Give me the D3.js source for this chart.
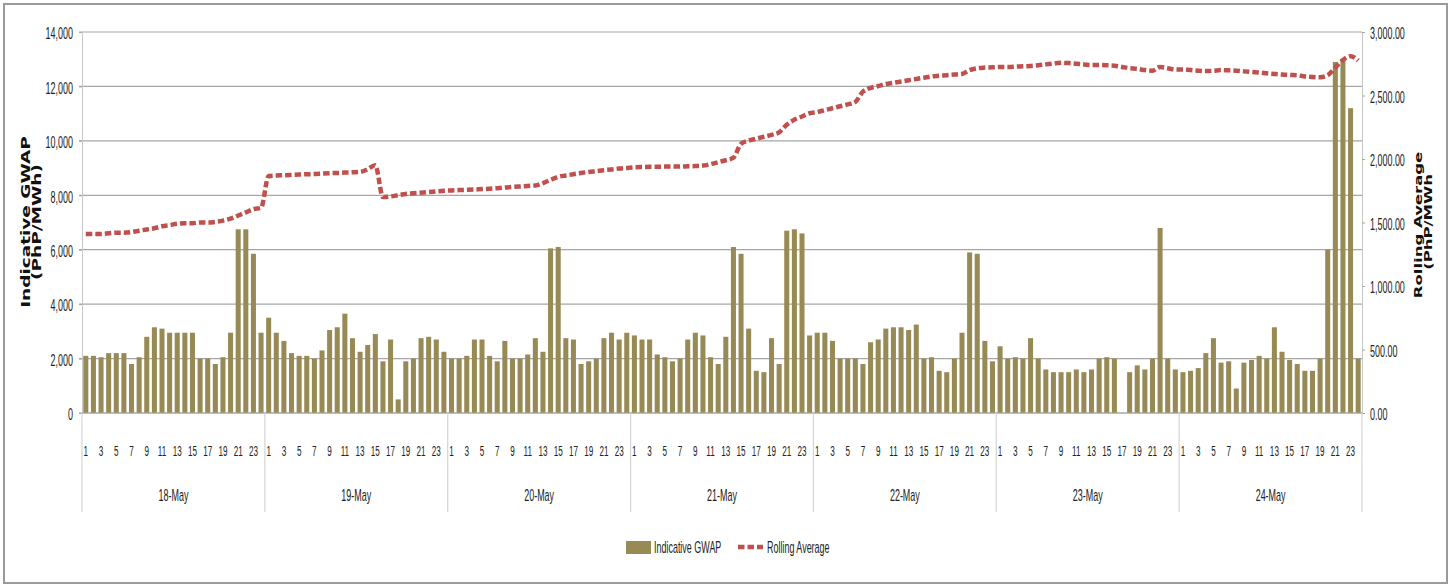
<!DOCTYPE html>
<html><head><meta charset="utf-8">
<script src="https://cdn.jsdelivr.net/npm/d3@7"></script>
<style>body{margin:0;background:#fff}</style></head>
<body><svg id="c" width="1456" height="586"></svg>
<script>
// ---- data ----
const days = ["18-May","19-May","20-May","21-May","22-May","23-May","24-May"];
const hours = d3.range(1,25).map(String);
const leftTicks = [0,2000,4000,6000,8000,10000,12000,14000];
const rightTicks = [0,500,1000,1500,2000,2500,3000];

const gwap18 = [2100,2100,2050,2200,2200,2200,1800,2050,2800,3150,3100,2950,2950,2950,2950,2000,2000,1800,2050,2950,6750,6750,5850,2950];
const gwap19 = [3500,2950,2650,2200,2100,2100,2000,2300,3050,3150,3650,2750,2250,2500,2900,1900,2700,500,1900,2000,2750,2800,2700,2250];
const gwap20 = [2000,2000,2100,2700,2700,2100,1900,2650,2000,2000,2150,2750,2250,6050,6100,2750,2700,1800,1900,2000,2750,2950,2700,2950];
const gwap21 = [2850,2700,2700,2150,2050,1900,2000,2700,2950,2850,2050,1800,2800,6100,5850,3100,1550,1500,2750,1800,6700,6750,6600,2850];
const gwap22 = [2950,2950,2650,2000,2000,2000,1800,2600,2700,3100,3150,3150,3050,3250,2000,2050,1550,1500,2000,2950,5900,5850,2650,1900];
const gwap23 = [2450,2000,2050,2000,2750,2000,1600,1500,1500,1500,1600,1500,1600,2000,2050,2000,0,1500,1750,1600,2000,6800,2000,1600];
const gwap24 = [1500,1550,1650,2200,2750,1850,1900,900,1850,1950,2100,2000,3150,2250,1950,1800,1550,1550,2000,6000,12900,13000,11200,2000];

const roll18 = [1410,1410,1410,1415,1420,1420,1425,1435,1445,1455,1470,1480,1490,1495,1495,1500,1500,1505,1515,1530,1555,1580,1605,1615];
const roll19 = [1866,1870,1872,1875,1878,1880,1882,1885,1888,1890,1893,1895,1898,1920,1950,1700,1705,1715,1725,1730,1735,1740,1745,1750];
const roll20 = [1752,1755,1757,1760,1763,1766,1770,1775,1780,1784,1788,1792,1810,1835,1860,1870,1880,1890,1898,1905,1912,1918,1925,1930];
const roll21 = [1935,1937,1938,1938,1940,1940,1940,1942,1945,1948,1960,1975,1990,2010,2120,2145,2160,2175,2190,2210,2270,2310,2335,2360];
const roll22 = [2370,2385,2400,2415,2430,2450,2530,2560,2575,2590,2600,2610,2620,2630,2640,2650,2655,2660,2665,2670,2700,2715,2720,2722];
const roll23 = [2725,2725,2727,2730,2733,2738,2745,2752,2757,2755,2750,2745,2740,2740,2738,2735,2725,2715,2710,2700,2695,2725,2715,2705];
const roll24 = [2705,2700,2695,2692,2695,2700,2698,2695,2690,2685,2680,2675,2670,2665,2662,2660,2650,2645,2643,2660,2720,2780,2810,2775];

const gwap = [].concat(gwap18,gwap19,gwap20,gwap21,gwap22,gwap23,gwap24);
const roll = [].concat(roll18,roll19,roll20,roll21,roll22,roll23,roll24);

// ---- layout ----
const L = 82, R = 1362, T = 32, B = 413;
const barColor = "#978a55", lineColor = "#c0504d";
const svg = d3.select("#c");
const SQ = 0.56;
const font = "'Liberation Sans', Arial, sans-serif";

svg.append("rect").attr("x",4).attr("y",4).attr("width",1443).attr("height",579)
  .attr("fill","#fff").attr("stroke","#9a9a9a").attr("stroke-width",2);

const idx = d3.range(gwap.length);
const x = d3.scaleBand().domain(idx).range([L,R]).paddingInner(0.34).paddingOuter(0.17);
const yL = d3.scaleLinear().domain([0,14000]).range([B,T]);
const yR = d3.scaleLinear().domain([0,3000]).range([B,T]);

function squish(sel, f){
  sel.each(function(){
    const t = d3.select(this);
    const tx = +t.attr("x") || 0;
    t.attr("x",0).attr("transform",`translate(${tx},0) scale(${f},1)`);
  });
}

// gridlines
svg.append("g").selectAll("line").data(leftTicks).join("line")
  .attr("x1",L-3).attr("x2",R).attr("y1",d=>yL(d)).attr("y2",d=>yL(d))
  .attr("stroke","#a6a6a6").attr("stroke-width",1.2);

// left axis
const gl = svg.append("g").attr("transform",`translate(${L},0)`)
  .call(d3.axisLeft(yL).tickValues(leftTicks).tickFormat(d3.format(",")).tickSize(3).tickPadding(6));
gl.select(".domain").attr("stroke","#c8c8c8");
gl.selectAll(".tick line").attr("stroke","#a6a6a6");
gl.selectAll("text").attr("font-family",font).attr("font-size",16).attr("fill","#222").attr("dy","0.42em");
squish(gl.selectAll("text"), SQ);

// right axis
const gr = svg.append("g").attr("transform",`translate(${R},0)`)
  .call(d3.axisRight(yR).tickValues(rightTicks).tickFormat(d3.format(",.2f")).tickSize(3).tickPadding(5));
gr.select(".domain").attr("stroke","#c8c8c8");
gr.selectAll(".tick line").attr("stroke","#a6a6a6");
gr.selectAll("text").attr("font-family",font).attr("font-size",16).attr("fill","#222").attr("dy","0.42em");
squish(gr.selectAll("text"), SQ);

// bars
svg.append("g").selectAll("rect").data(idx).join("rect")
  .attr("x",i=>x(i)).attr("width",x.bandwidth())
  .attr("y",i=>yL(gwap[i])).attr("height",i=>B-yL(gwap[i]))
  .attr("fill",barColor);

// baseline
svg.append("line").attr("x1",L).attr("x2",R).attr("y1",B).attr("y2",B).attr("stroke","#a6a6a6").attr("stroke-width",1.2);

// rolling line
const line = d3.line().x(i=>x(i)+x.bandwidth()/2).y(i=>yR(roll[i])).curve(d3.curveMonotoneX);
svg.append("path").attr("d",line(idx)).attr("fill","none").attr("stroke",lineColor)
  .attr("stroke-width",4.5).attr("stroke-dasharray","6.5,3");

// x hour labels
const step = x.step();
const hourG = svg.append("g").selectAll("text").data(idx.filter(i=>i%2===0)).join("text")
  .attr("x",i=>x(i)+x.bandwidth()/2).attr("y",456)
  .attr("text-anchor","middle").attr("font-family",font).attr("font-size",14.5).attr("fill","#222")
  .text(i=>hours[i%24]);
squish(hourG, SQ);

// day separators
const dayX = d3.scaleLinear().domain([0,days.length]).range([L,R]);
svg.append("g").selectAll("line").data(d3.range(days.length+1)).join("line")
  .attr("x1",d=>dayX(d)).attr("x2",d=>dayX(d)).attr("y1",B).attr("y2",512)
  .attr("stroke","#d4d4d4").attr("stroke-width",1.2);
const dayG = svg.append("g").selectAll("text").data(days).join("text")
  .attr("x",(d,i)=>dayX(i+0.5)).attr("y",501)
  .attr("text-anchor","middle").attr("font-family",font).attr("font-size",16).attr("fill","#222")
  .text(d=>d);
squish(dayG, SQ);

// axis titles
const tfont = "'DejaVu Sans', Verdana, sans-serif";
function vtitle(txt, cx, cy, size){
  svg.append("text").attr("transform",`translate(${cx},${cy}) rotate(-90) scale(1,0.68)`)
    .attr("text-anchor","middle").attr("font-family",tfont).attr("font-weight","bold")
    .attr("font-size",size).attr("fill","#111").text(txt);
}
vtitle("Indicative GWAP", 30, 222, 18.5);
vtitle("(PhP/MWh)", 40.5, 222, 18.5);
vtitle("Rolling Average", 1422, 225, 16.5);
vtitle("(PhP/MWh", 1432, 222, 16.5);

// legend
const lg = svg.append("g");
lg.append("rect").attr("x",626).attr("y",541).attr("width",25).attr("height",13).attr("fill",barColor);
const t1 = lg.append("text").attr("x",654).attr("y",553).attr("font-family",font).attr("font-size",16).attr("fill","#222").text("Indicative GWAP");
lg.append("line").attr("x1",738).attr("x2",763).attr("y1",547).attr("y2",547)
  .attr("stroke",lineColor).attr("stroke-width",4.5).attr("stroke-dasharray","6.5,3");
const t2 = lg.append("text").attr("x",767).attr("y",553).attr("font-family",font).attr("font-size",16).attr("fill","#222").text("Rolling Average");
squish(lg.selectAll("text"), SQ);
</script>
</body></html>
